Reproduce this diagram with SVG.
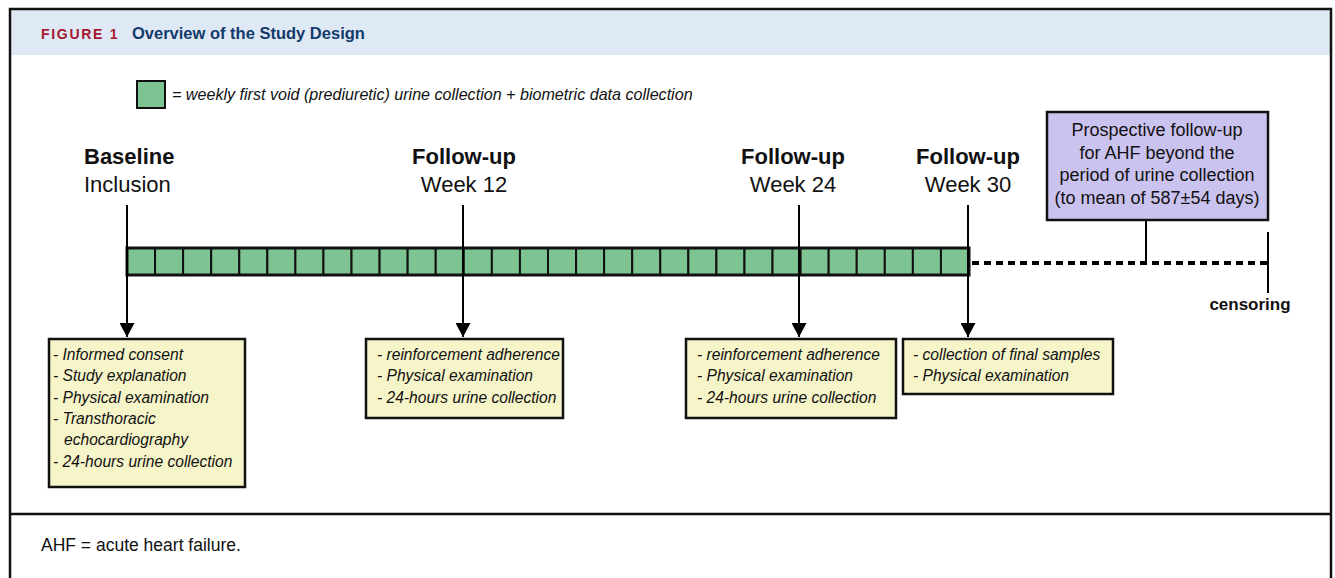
<svg xmlns="http://www.w3.org/2000/svg" width="1335" height="578" viewBox="0 0 1335 578">
<defs>
<marker id="arr" markerUnits="userSpaceOnUse" viewBox="0 0 14 15" refX="14" refY="7.5" markerWidth="14" markerHeight="15" orient="auto"><path d="M0,0 L14,7.5 L0,15 z" fill="#000"/></marker>
<style>
.lbl{font-family:"Liberation Sans",Arial,sans-serif;font-size:22px;fill:#111;}
.b{font-weight:bold;}
.it{font-family:"Liberation Sans",Arial,sans-serif;font-style:italic;font-size:15.6px;fill:#111;}
.leg{font-family:"Liberation Sans",Arial,sans-serif;font-style:italic;font-size:16.1px;fill:#111;}
.cell{fill:#7ec492;stroke:#111;stroke-width:2;}
.note{fill:#f6f4c9;stroke:#111;stroke-width:2.5;}
.conn{stroke:#000;stroke-width:2;fill:none;}
.pt{font-family:"Liberation Sans",Arial,sans-serif;font-size:18px;fill:#111;text-anchor:middle;}
</style>
</defs>
<rect x="0" y="0" width="1335" height="578" fill="#fff"/>
<rect x="10" y="9" width="1321" height="46" fill="#dfe9f5"/>
<path d="M10,590 L10,9 L1331,9 L1331,590" fill="none" stroke="#111" stroke-width="2.5"/>
<line x1="10" y1="514" x2="1331" y2="514" stroke="#111" stroke-width="2.5"/>
<text x="41" y="39" font-family="Liberation Sans,Arial,sans-serif" font-weight="bold" font-size="14" letter-spacing="1.7" fill="#a51830">FIGURE 1</text>
<text x="132" y="39" font-family="Liberation Sans,Arial,sans-serif" font-weight="bold" font-size="16.5" fill="#123a6b">Overview of the Study Design</text>
<g id="legend">
<rect x="137" y="81" width="28" height="27" class="cell" stroke-width="2.5"/>
<text x="172" y="100" class="leg">= weekly first void (prediuretic) urine collection + biometric data collection</text>
</g>
<g id="timeline">
<rect x="127" y="248" width="28.07" height="27" class="cell"/><rect x="155.07" y="248" width="28.07" height="27" class="cell"/><rect x="183.13" y="248" width="28.07" height="27" class="cell"/><rect x="211.2" y="248" width="28.07" height="27" class="cell"/><rect x="239.27" y="248" width="28.07" height="27" class="cell"/><rect x="267.33" y="248" width="28.07" height="27" class="cell"/><rect x="295.4" y="248" width="28.07" height="27" class="cell"/><rect x="323.47" y="248" width="28.07" height="27" class="cell"/><rect x="351.53" y="248" width="28.07" height="27" class="cell"/><rect x="379.6" y="248" width="28.07" height="27" class="cell"/><rect x="407.67" y="248" width="28.07" height="27" class="cell"/><rect x="435.73" y="248" width="28.07" height="27" class="cell"/><rect x="463.8" y="248" width="28.07" height="27" class="cell"/><rect x="491.87" y="248" width="28.07" height="27" class="cell"/><rect x="519.93" y="248" width="28.07" height="27" class="cell"/><rect x="548" y="248" width="28.07" height="27" class="cell"/><rect x="576.07" y="248" width="28.07" height="27" class="cell"/><rect x="604.13" y="248" width="28.07" height="27" class="cell"/><rect x="632.2" y="248" width="28.07" height="27" class="cell"/><rect x="660.27" y="248" width="28.07" height="27" class="cell"/><rect x="688.33" y="248" width="28.07" height="27" class="cell"/><rect x="716.4" y="248" width="28.07" height="27" class="cell"/><rect x="744.47" y="248" width="28.07" height="27" class="cell"/><rect x="772.53" y="248" width="28.07" height="27" class="cell"/><rect x="800.6" y="248" width="28.07" height="27" class="cell"/><rect x="828.67" y="248" width="28.07" height="27" class="cell"/><rect x="856.73" y="248" width="28.07" height="27" class="cell"/><rect x="884.8" y="248" width="28.07" height="27" class="cell"/><rect x="912.87" y="248" width="28.07" height="27" class="cell"/><rect x="940.93" y="248" width="28.07" height="27" class="cell"/>
<rect x="127" y="248" width="842" height="27" fill="none" stroke="#111" stroke-width="3"/>
</g>
<g id="labels">
<text x="84" y="164" class="lbl b">Baseline</text>
<text x="84" y="192" class="lbl">Inclusion</text>
<text x="464" y="164" class="lbl b" text-anchor="middle">Follow-up</text>
<text x="464" y="192" class="lbl" text-anchor="middle">Week 12</text>
<text x="793" y="164" class="lbl b" text-anchor="middle">Follow-up</text>
<text x="793" y="192" class="lbl" text-anchor="middle">Week 24</text>
<text x="968" y="164" class="lbl b" text-anchor="middle">Follow-up</text>
<text x="968" y="192" class="lbl" text-anchor="middle">Week 30</text>
<text x="1250" y="310" font-family="Liberation Sans,Arial,sans-serif" font-weight="bold" font-size="17" fill="#111" text-anchor="middle">censoring</text>
</g>
<g id="connectors">
<line x1="127" y1="205" x2="127" y2="337" class="conn" marker-end="url(#arr)"/>
<line x1="463" y1="205" x2="463" y2="337" class="conn" marker-end="url(#arr)"/>
<line x1="799" y1="205" x2="799" y2="337" class="conn" marker-end="url(#arr)"/>
<line x1="968" y1="205" x2="968" y2="337" class="conn" marker-end="url(#arr)"/>
<line x1="972" y1="263" x2="1268" y2="263" stroke="#000" stroke-width="4" stroke-dasharray="7,5"/>
<line x1="1146" y1="220" x2="1146" y2="263" class="conn"/>
<line x1="1268" y1="232" x2="1268" y2="293" class="conn"/>
</g>
<g id="followup-box">
<rect x="1047" y="112" width="221" height="108" fill="#cbc3ef" stroke="#111" stroke-width="2.5"/>
<text x="1157" y="136" class="pt">Prospective follow-up</text>
<text x="1157" y="159" class="pt">for AHF beyond the</text>
<text x="1157" y="181" class="pt">period of urine collection</text>
<text x="1157" y="204" class="pt">(to mean of 587±54 days)</text>
</g>
<g id="box-baseline">
<rect x="49" y="339" width="196" height="148" class="note"/>
<text class="it"><tspan x="53" y="360">- Informed consent</tspan><tspan x="53" y="381">- Study explanation</tspan><tspan x="53" y="403">- Physical examination</tspan><tspan x="53" y="424">- Transthoracic</tspan><tspan x="64" y="445">echocardiography</tspan><tspan x="53" y="467">- 24-hours urine collection</tspan></text>
</g>
<g id="box-week12">
<rect x="366" y="339" width="197" height="79" class="note"/>
<text class="it"><tspan x="377" y="360">- reinforcement adherence</tspan><tspan x="377" y="381">- Physical examination</tspan><tspan x="377" y="403">- 24-hours urine collection</tspan></text>
</g>
<g id="box-week24">
<rect x="686" y="339" width="210" height="79" class="note"/>
<text class="it"><tspan x="697" y="360">- reinforcement adherence</tspan><tspan x="697" y="381">- Physical examination</tspan><tspan x="697" y="403">- 24-hours urine collection</tspan></text>
</g>
<g id="box-week30">
<rect x="903" y="339" width="210" height="55" class="note"/>
<text class="it"><tspan x="913" y="360">- collection of final samples</tspan><tspan x="913" y="381">- Physical examination</tspan></text>
</g>
<text x="41" y="551" font-family="Liberation Sans,Arial,sans-serif" font-size="17.5" fill="#111">AHF = acute heart failure.</text>
</svg>
